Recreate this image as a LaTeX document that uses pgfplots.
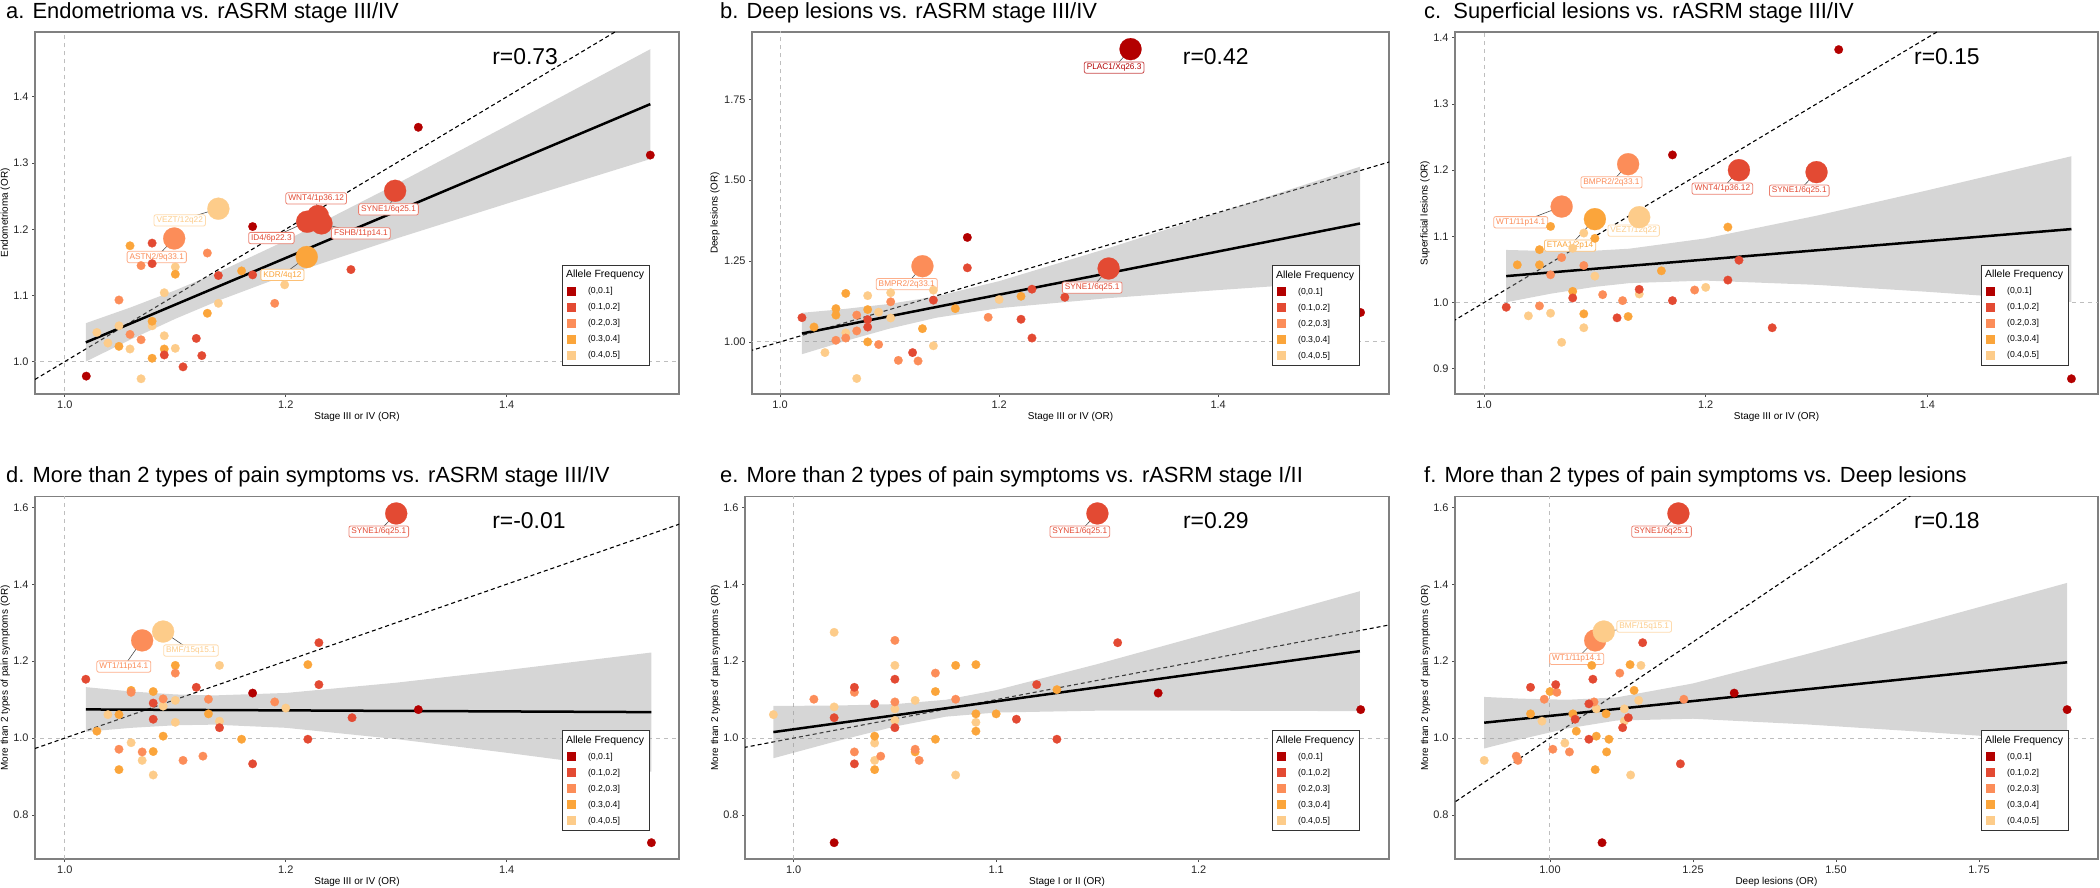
\documentclass[border=0pt]{standalone}
\usepackage{fontspec}
\setmainfont{Liberation Sans}
\usepackage{pgfplots}
\pgfplotsset{compat=1.18}

\definecolor{c1}{HTML}{B30000}
\definecolor{c2}{HTML}{E34A33}
\definecolor{c3}{HTML}{FC8D59}
\definecolor{c4}{HTML}{FBA53B}
\definecolor{c5}{HTML}{FDCC8A}
\definecolor{bandc}{RGB}{153,153,153}
\definecolor{framec}{RGB}{128,128,128}
\definecolor{refc}{RGB}{190,190,190}

\pgfplotsset{
  panel/.style={
    scale only axis, anchor=south west,
    axis line style={draw=framec, line width=1.5bp},
    tick align=outside, xtick pos=lower, ytick pos=left,
    major tick length=3bp,
    tick style={black!70, line width=0.8bp},
    ticklabel style={font=\fontsize{11}{13}\selectfont, text=black!85},
    label style={font=\fontsize{10.7}{12}\selectfont},
    every axis x label/.style={at={(axis description cs:0.5,0)}, anchor=center, yshift=-22.5bp},
    legend style={at={(axis description cs:1,0)}, anchor=south east, xshift=-29bp, yshift=28bp,
      draw=black!80, line width=1bp, fill=white, font=\fontsize{8.7}{10}\selectfont,
      inner xsep=4bp, inner ysep=4bp, row sep=4bp, column sep=11bp,
      nodes={inner sep=1.5bp, text height=7bp, text depth=2bp}},
    legend cell align=left,
    legend image code/.code={\path[draw=none, #1] (-4.5bp,-4.5bp) rectangle (4.5bp,4.5bp);},
  },
  yl/.style={every axis y label/.style={at={(axis description cs:#1,0.5)}, rotate=90, anchor=center}},
  pt/.style={only marks, mark=*, mark size=4.3bp, forget plot, color=#1, mark options={draw=#1, line width=0.2bp}},
  big/.style={only marks, mark=*, mark size=11bp, forget plot, color=#1, mark options={draw=#1, line width=0.2bp}},
  refl/.style={refc, line width=1bp, dash pattern=on 4bp off 4bp, forget plot},
  idl/.style={black, line width=1.1bp, dash pattern=on 4bp off 3bp, forget plot},
  band/.style={fill=bandc, fill opacity=0.4, draw=none, forget plot},
  fit/.style={black, line width=2.5bp, forget plot},
}
\tikzset{
  ttl/.style={anchor=base west, font=\fontsize{22}{24}\selectfont, inner sep=0pt},
  lab/.style={draw=#1!70, fill=white, text=#1, rounded corners=2bp, line width=0.8bp,
    inner xsep=2.5bp, inner ysep=1.8bp, font=\fontsize{8.3}{9}\selectfont},
  seg/.style={black!70, line width=0.6bp},
  rr/.style={font=\fontsize{23}{26}\selectfont},
}
\newcommand{\aflegend}{%
  \addlegendimage{legend image code/.code={}}
  \addlegendentry{\hspace*{-22bp}\fontsize{10.5}{12}\selectfont Allele Frequency}
  \addlegendimage{fill=c1}\addlegendentry{(0,0.1]}
  \addlegendimage{fill=c2}\addlegendentry{(0.1,0.2]}
  \addlegendimage{fill=c3}\addlegendentry{(0.2,0.3]}
  \addlegendimage{fill=c4}\addlegendentry{(0.3,0.4]}
  \addlegendimage{fill=c5}\addlegendentry{(0.4,0.5]}
}
\newcommand{\refs}{%
  \addplot[refl] coordinates {(1,0) (1,3)};
  \addplot[refl] coordinates {(0,1) (3,1)};
  \addplot[idl] coordinates {(0.5,0.5) (2.5,2.5)};
}

\begin{document}
\begin{tikzpicture}
\useasboundingbox (0,0) rectangle (2100bp,-888bp);

\node[ttl] at (6bp,-18.3bp) {a. Endometrioma vs. rASRM stage III/IV};
\node[ttl] at (720bp,-18.3bp) {b. Deep lesions vs. rASRM stage III/IV};
\node[ttl] at (1424bp,-18.3bp) {c.\ \ Superficial lesions vs. rASRM stage III/IV};
\node[ttl] at (6bp,-482bp) {d. More than 2 types of pain symptoms vs. rASRM stage III/IV};
\node[ttl] at (720bp,-482bp) {e. More than 2 types of pain symptoms vs. rASRM stage I/II};
\node[ttl] at (1424bp,-482bp) {f. More than 2 types of pain symptoms vs. Deep lesions};

% ---------------- a
\begin{axis}[panel, yl=-0.046, at={(35bp,-394bp)}, width=644bp, height=362bp,
  xmin=0.973, xmax=1.556, ymin=0.951, ymax=1.498,
  xtick={1,1.2,1.4}, xticklabels={1.0,1.2,1.4},
  ytick={1,1.1,1.2,1.3,1.4}, yticklabels={1.0,1.1,1.2,1.3,1.4},
  xlabel={Stage III or IV (OR)}, ylabel={Endometrioma (OR)}]
\refs
\addplot[pt=c5] coordinates {(1.029,1.044) (1.039,1.028) (1.049,1.054) (1.059,1.019) (1.069,0.974) (1.079,1.054) (1.090,1.039) (1.090,1.104) (1.100,1.143) (1.100,1.020) (1.139,1.088) (1.199,1.116)};
\addplot[pt=c4] coordinates {(1.049,1.023) (1.059,1.175) (1.079,1.061) (1.079,1.005) (1.090,1.019) (1.100,1.132) (1.129,1.073) (1.160,1.137)};
\addplot[pt=c3] coordinates {(1.049,1.093) (1.059,1.041) (1.069,1.145) (1.069,1.033) (1.129,1.164) (1.190,1.088)};
\addplot[pt=c2] coordinates {(1.079,1.179) (1.079,1.148) (1.090,1.010) (1.107,0.992) (1.119,1.035) (1.124,1.009) (1.139,1.130) (1.170,1.131) (1.259,1.139)};
\addplot[pt=c1] coordinates {(1.0194,0.978) (1.170,1.204) (1.320,1.354) (1.530,1.312)};
\addplot[big=c5] coordinates {(1.139,1.231)};
\addplot[big=c3] coordinates {(1.099,1.186)};
\addplot[big=c4] coordinates {(1.219,1.158)};
\addplot[big=c2] coordinates {(1.2194,1.2113) (1.2323,1.2088) (1.2291,1.2199) (1.299,1.258)};
\addplot[band] coordinates {(1.019,1.058) (1.06,1.0821) (1.10,1.1077) (1.14,1.1358) (1.2,1.1829) (1.3,1.2681) (1.4,1.3562) (1.53,1.472)
  (1.53,1.306) (1.4,1.2386) (1.3,1.1859) (1.2,1.1302) (1.14,1.0927) (1.10,1.0646) (1.06,1.0337) (1.019,1.000)};
\addplot[fit] coordinates {(1.019,1.029) (1.53,1.389)};
\draw[seg] (axis cs:1.104,1.2133) -- (axis cs:1.139,1.231);
\draw[seg] (axis cs:1.0832,1.158) -- (axis cs:1.099,1.186);
\draw[seg] (axis cs:1.2275,1.2465) -- (axis cs:1.2291,1.2199);
\draw[seg] (axis cs:1.187,1.1867) -- (axis cs:1.2194,1.2113);
\draw[seg] (axis cs:1.293,1.230) -- (axis cs:1.299,1.258);
\draw[seg] (axis cs:1.268,1.1937) -- (axis cs:1.2323,1.2088);
\draw[seg] (axis cs:1.197,1.131) -- (axis cs:1.219,1.158);
\node[lab=c5] at (axis cs:1.104,1.2133) {VEZT/12q22};
\node[lab=c3] at (axis cs:1.0832,1.158) {ASTN2/9q33.1};
\node[lab=c2] at (axis cs:1.2275,1.2465) {WNT4/1p36.12};
\node[lab=c2] at (axis cs:1.187,1.1867) {ID4/6p22.3};
\node[lab=c2] at (axis cs:1.293,1.230) {SYNE1/6q25.1};
\node[lab=c2] at (axis cs:1.268,1.1937) {FSHB/11p14.1};
\node[lab=c4] at (axis cs:1.197,1.131) {KDR/4q12};
\node[rr] at (axis description cs:0.761,0.931) {r=0.73};
\aflegend
\end{axis}

% ---------------- b
\begin{axis}[panel, yl=-0.058, at={(752bp,-394bp)}, width=637bp, height=362bp,
  xmin=0.9744, xmax=1.556, ymin=0.839, ymax=1.958,
  xtick={1,1.2,1.4}, xticklabels={1.0,1.2,1.4},
  ytick={1,1.25,1.5,1.75}, yticklabels={1.00,1.25,1.50,1.75},
  xlabel={Stage III or IV (OR)}, ylabel={Deep lesions (OR)}]
\refs
\addplot[pt=c5] coordinates {(1.041,0.967) (1.060,1.028) (1.070,0.887) (1.080,1.143) (1.090,1.092) (1.101,1.152) (1.101,1.074) (1.140,0.988) (1.140,1.160) (1.200,1.131)};
\addplot[pt=c4] coordinates {(1.031,1.046) (1.051,1.103) (1.051,1.083) (1.060,1.150) (1.080,1.100) (1.080,1.000) (1.130,1.041) (1.160,1.103) (1.220,1.141)};
\addplot[pt=c3] coordinates {(1.051,1.005) (1.060,1.012) (1.070,1.083) (1.070,1.034) (1.090,0.992) (1.101,1.124) (1.108,0.943) (1.126,0.941) (1.190,1.076)};
\addplot[pt=c2] coordinates {(1.020,1.075) (1.080,1.069) (1.080,1.046) (1.121,0.967) (1.140,1.129) (1.171,1.229) (1.220,1.070) (1.230,1.163) (1.230,1.012) (1.260,1.138)};
\addplot[pt=c1] coordinates {(1.171,1.323) (1.530,1.091)};
\addplot[big=c3] coordinates {(1.130,1.234)};
\addplot[big=c2] coordinates {(1.300,1.227)};
\addplot[big=c1] coordinates {(1.320,1.905)};
\addplot[band] coordinates {(1.02,1.090) (1.06,1.1023) (1.10,1.1176) (1.143,1.141) (1.2,1.1878) (1.3,1.2902) (1.4,1.3988) (1.5295,1.5416)
  (1.5295,1.1904) (1.4,1.1602) (1.3,1.1354) (1.2,1.1044) (1.143,1.075) (1.10,1.0412) (1.06,1.0031) (1.02,0.962)};
\addplot[fit] coordinates {(1.02,1.026) (1.5295,1.366)};
\draw[seg] (axis cs:1.305,1.848) -- (axis cs:1.320,1.905);
\draw[seg] (axis cs:1.1157,1.1785) -- (axis cs:1.130,1.234);
\draw[seg] (axis cs:1.285,1.168) -- (axis cs:1.300,1.227);
\node[lab=c1] at (axis cs:1.305,1.848) {PLAC1/Xq26.3};
\node[lab=c3] at (axis cs:1.1157,1.1785) {BMPR2/2q33.1};
\node[lab=c2] at (axis cs:1.285,1.168) {SYNE1/6q25.1};
\node[rr] at (axis description cs:0.728,0.931) {r=0.42};
\aflegend
\end{axis}

% ---------------- c
\begin{axis}[panel, yl=-0.0467, at={(1455bp,-394bp)}, width=643bp, height=362bp,
  xmin=0.9738, xmax=1.554, ymin=0.862, ymax=1.4086,
  xtick={1,1.2,1.4}, xticklabels={1.0,1.2,1.4},
  ytick={0.9,1,1.1,1.2,1.3,1.4}, yticklabels={0.9,1.0,1.1,1.2,1.3,1.4},
  xlabel={Stage III or IV (OR)}, ylabel={Superficial lesions (OR)}]
\refs
\addplot[pt=c5] coordinates {(1.040,0.980) (1.060,0.984) (1.070,0.940) (1.080,1.082) (1.090,1.105) (1.090,0.962) (1.100,1.040) (1.140,1.013) (1.200,1.023)};
\addplot[pt=c4] coordinates {(1.030,1.057) (1.050,1.080) (1.050,1.057) (1.060,1.115) (1.080,1.017) (1.090,0.983) (1.100,1.097) (1.130,0.979) (1.160,1.048) (1.220,1.114)};
\addplot[pt=c3] coordinates {(1.050,0.995) (1.060,1.042) (1.070,1.068) (1.090,1.056) (1.107,1.012) (1.125,1.003) (1.190,1.019)};
\addplot[pt=c2] coordinates {(1.020,0.993) (1.080,1.007) (1.120,0.977) (1.140,1.020) (1.170,1.003) (1.220,1.034) (1.230,1.064) (1.260,0.962)};
\addplot[pt=c1] coordinates {(1.170,1.223) (1.320,1.382) (1.530,0.885)};
\addplot[big=c3] coordinates {(1.130,1.209) (1.070,1.145)};
\addplot[big=c4] coordinates {(1.100,1.126)};
\addplot[big=c5] coordinates {(1.140,1.129)};
\addplot[big=c2] coordinates {(1.230,1.200) (1.300,1.197)};
\addplot[band] coordinates {(1.02,1.0795) (1.06,1.0778) (1.10,1.0784) (1.131,1.0814) (1.2,1.097) (1.3,1.1312) (1.4,1.1695) (1.53,1.221)
  (1.53,1.001) (1.4,1.0163) (1.3,1.0268) (1.2,1.0332) (1.131,1.0294) (1.10,1.0238) (1.06,1.0134) (1.02,1.0005)};
\addplot[fit] coordinates {(1.02,1.040) (1.53,1.111)};
\draw[seg] (axis cs:1.115,1.1816) -- (axis cs:1.130,1.209);
\draw[seg] (axis cs:1.0331,1.1213) -- (axis cs:1.070,1.145);
\draw[seg] (axis cs:1.0776,1.086) -- (axis cs:1.100,1.126);
\draw[seg] (axis cs:1.135,1.1087) -- (axis cs:1.140,1.129);
\draw[seg] (axis cs:1.215,1.172) -- (axis cs:1.230,1.200);
\draw[seg] (axis cs:1.2844,1.169) -- (axis cs:1.300,1.197);
\node[lab=c3] at (axis cs:1.115,1.1816) {BMPR2/2q33.1};
\node[lab=c3] at (axis cs:1.0331,1.1213) {WT1/11p14.1};
\node[lab=c4] at (axis cs:1.0776,1.086) {ETAA1/2p14};
\node[lab=c5] at (axis cs:1.135,1.1087) {VEZT/12q22};
\node[lab=c2] at (axis cs:1.215,1.172) {WNT4/1p36.12};
\node[lab=c2] at (axis cs:1.2844,1.169) {SYNE1/6q25.1};
\node[rr] at (axis description cs:0.765,0.931) {r=0.15};
\aflegend
\end{axis}

% ---------------- d
\begin{axis}[panel, yl=-0.046, at={(35bp,-859bp)}, width=644bp, height=362.3bp,
  xmin=0.973, xmax=1.556, ymin=0.6856, ymax=1.6276,
  xtick={1,1.2,1.4}, xticklabels={1.0,1.2,1.4},
  ytick={0.8,1,1.2,1.4,1.6}, yticklabels={0.8,1.0,1.2,1.4,1.6},
  xlabel={Stage III or IV (OR)}, ylabel={More than 2 types of pain symptoms (OR)}]
\refs
\addplot[pt=c5] coordinates {(1.039,1.061) (1.060,0.988) (1.070,0.942) (1.080,0.904) (1.089,1.083) (1.100,1.098) (1.100,1.041) (1.140,1.189) (1.140,1.044) (1.200,1.078)};
\addplot[pt=c4] coordinates {(1.029,1.018) (1.049,1.061) (1.049,0.918) (1.060,1.124) (1.080,1.121) (1.080,0.965) (1.089,1.005) (1.100,1.189) (1.130,1.063) (1.160,0.997) (1.220,1.191)};
\addplot[pt=c3] coordinates {(1.049,0.971) (1.060,1.119) (1.070,0.964) (1.089,1.102) (1.100,1.169) (1.107,0.942) (1.125,0.953) (1.130,1.101) (1.190,1.094)};
\addplot[pt=c2] coordinates {(1.019,1.153) (1.080,1.091) (1.080,1.049) (1.119,1.132) (1.140,1.027) (1.170,0.933) (1.220,0.997) (1.230,1.248) (1.230,1.139) (1.260,1.053)};
\addplot[pt=c1] coordinates {(1.170,1.117) (1.320,1.074) (1.531,0.728)};
\addplot[big=c3] coordinates {(1.070,1.254)};
\addplot[big=c5] coordinates {(1.089,1.277)};
\addplot[big=c2] coordinates {(1.300,1.584)};
\addplot[band] coordinates {(1.019,1.1325) (1.06,1.1212) (1.10,1.1135) (1.1346,1.1109) (1.2,1.1173) (1.3,1.144) (1.4,1.1768) (1.531,1.2225)
  (1.531,0.9125) (1.4,0.9618) (1.3,0.9974) (1.2,1.0267) (1.1346,1.0349) (1.10,1.0333) (1.06,1.0266) (1.019,1.0165)};
\addplot[fit] coordinates {(1.019,1.0745) (1.531,1.0675)};
\draw[seg] (axis cs:1.2842,1.5368) -- (axis cs:1.300,1.584);
\draw[seg] (axis cs:1.0534,1.186) -- (axis cs:1.070,1.254);
\draw[seg] (axis cs:1.1142,1.2277) -- (axis cs:1.089,1.277);
\node[lab=c2] at (axis cs:1.2842,1.5368) {SYNE1/6q25.1};
\node[lab=c3] at (axis cs:1.0534,1.186) {WT1/11p14.1};
\node[lab=c5] at (axis cs:1.1142,1.2277) {BMF/15q15.1};
\node[rr] at (axis description cs:0.767,0.934) {r=-0.01};
\aflegend
\end{axis}

% ---------------- e
\begin{axis}[panel, yl=-0.0457, at={(745bp,-859bp)}, width=644bp, height=362.3bp,
  xmin=0.976, xmax=1.294, ymin=0.6856, ymax=1.6276,
  xtick={1,1.1,1.2}, xticklabels={1.0,1.1,1.2},
  ytick={0.8,1,1.2,1.4,1.6}, yticklabels={0.8,1.0,1.2,1.4,1.6},
  xlabel={Stage I or II (OR)}, ylabel={More than 2 types of pain symptoms (OR)}]
\refs
\addplot[pt=c5] coordinates {(0.990,1.061) (1.020,1.275) (1.020,1.081) (1.040,0.987) (1.040,0.942) (1.050,1.189) (1.050,1.076) (1.050,1.046) (1.060,1.098) (1.080,0.904) (1.090,1.041)};
\addplot[pt=c4] coordinates {(1.040,1.005) (1.040,0.918) (1.060,0.964) (1.070,1.121) (1.070,0.997) (1.080,1.189) (1.090,1.191) (1.090,1.063) (1.090,1.018) (1.100,1.063) (1.130,1.126)};
\addplot[pt=c3] coordinates {(1.010,1.101) (1.030,1.119) (1.030,0.964) (1.043,0.953) (1.050,1.254) (1.050,1.094) (1.060,0.971) (1.062,0.942) (1.070,1.169) (1.080,1.101)};
\addplot[pt=c2] coordinates {(1.020,1.053) (1.030,1.132) (1.030,0.933) (1.040,1.089) (1.050,1.153) (1.050,1.027) (1.110,1.049) (1.120,1.139) (1.130,0.997) (1.160,1.248)};
\addplot[pt=c1] coordinates {(1.020,0.728) (1.180,1.117) (1.280,1.074)};
\addplot[big=c2] coordinates {(1.150,1.584)};
\addplot[band] coordinates {(0.99,1.0836) (1.02,1.0845) (1.05,1.0883) (1.0752,1.0997) (1.10,1.1246) (1.15,1.1924) (1.2,1.2649) (1.2796,1.3819)
  (1.2796,1.0701) (1.2,1.0713) (1.15,1.0712) (1.10,1.0664) (1.0752,1.0557) (1.05,1.0301) (1.02,0.9903) (0.99,0.9476)};
\addplot[fit] coordinates {(0.99,1.0156) (1.2796,1.226)};
\draw[seg] (axis cs:1.1413,1.5368) -- (axis cs:1.150,1.584);
\node[lab=c2] at (axis cs:1.1413,1.5368) {SYNE1/6q25.1};
\node[rr] at (axis description cs:0.731,0.934) {r=0.29};
\aflegend
\end{axis}

% ---------------- f
\begin{axis}[panel, yl=-0.046, at={(1455bp,-859bp)}, width=643bp, height=362.3bp,
  xmin=0.834, xmax=1.958, ymin=0.6856, ymax=1.6276,
  xtick={1,1.25,1.5,1.75}, xticklabels={1.00,1.25,1.50,1.75},
  ytick={0.8,1,1.2,1.4,1.6}, yticklabels={0.8,1.0,1.2,1.4,1.6},
  xlabel={Deep lesions (OR)}, ylabel={More than 2 types of pain symptoms (OR)}]
\refs
\addplot[pt=c5] coordinates {(0.885,0.942) (0.986,1.044) (1.026,0.987) (1.081,1.076) (1.130,1.076) (1.130,1.044) (1.141,0.904) (1.155,1.098) (1.159,1.189)};
\addplot[pt=c4] coordinates {(0.966,1.063) (1.000,1.121) (1.040,1.063) (1.046,1.018) (1.073,1.189) (1.081,1.005) (1.079,0.918) (1.098,1.063) (1.099,0.964) (1.103,0.997) (1.140,1.191) (1.147,1.124)};
\addplot[pt=c3] coordinates {(0.941,0.953) (0.944,0.942) (0.990,1.101) (1.005,0.971) (1.012,1.119) (1.034,0.964) (1.077,1.094) (1.122,1.169) (1.234,1.101)};
\addplot[pt=c2] coordinates {(0.966,1.132) (1.010,1.139) (1.044,1.049) (1.068,0.997) (1.068,1.089) (1.075,1.153) (1.127,1.027) (1.137,1.053) (1.162,1.248) (1.228,0.933)};
\addplot[pt=c1] coordinates {(1.091,0.728) (1.322,1.117) (1.904,1.074)};
\addplot[big=c3] coordinates {(1.079,1.254)};
\addplot[big=c5] coordinates {(1.094,1.277)};
\addplot[big=c2] coordinates {(1.2245,1.584)};
\addplot[band] coordinates {(0.885,1.107) (0.95,1.1025) (1.03,1.0997) (1.116,1.1056) (1.25,1.1421) (1.45,1.2188) (1.65,1.2995) (1.904,1.4035)
  (1.904,0.9905) (1.65,1.0163) (1.45,1.0354) (1.25,1.0503) (1.116,1.0456) (1.03,1.0249) (0.95,0.9975) (0.885,0.973)};
\addplot[fit] coordinates {(0.885,1.040) (1.904,1.197)};
\draw[seg] (axis cs:1.195,1.5368) -- (axis cs:1.2245,1.584);
\draw[seg] (axis cs:1.0466,1.206) -- (axis cs:1.079,1.254);
\draw[seg] (axis cs:1.1647,1.290) -- (axis cs:1.094,1.277);
\node[lab=c2] at (axis cs:1.195,1.5368) {SYNE1/6q25.1};
\node[lab=c3] at (axis cs:1.0466,1.206) {WT1/11p14.1};
\node[lab=c5] at (axis cs:1.1647,1.290) {BMF/15q15.1};
\node[rr] at (axis description cs:0.765,0.934) {r=0.18};
\aflegend
\end{axis}
\end{tikzpicture}
\end{document}
